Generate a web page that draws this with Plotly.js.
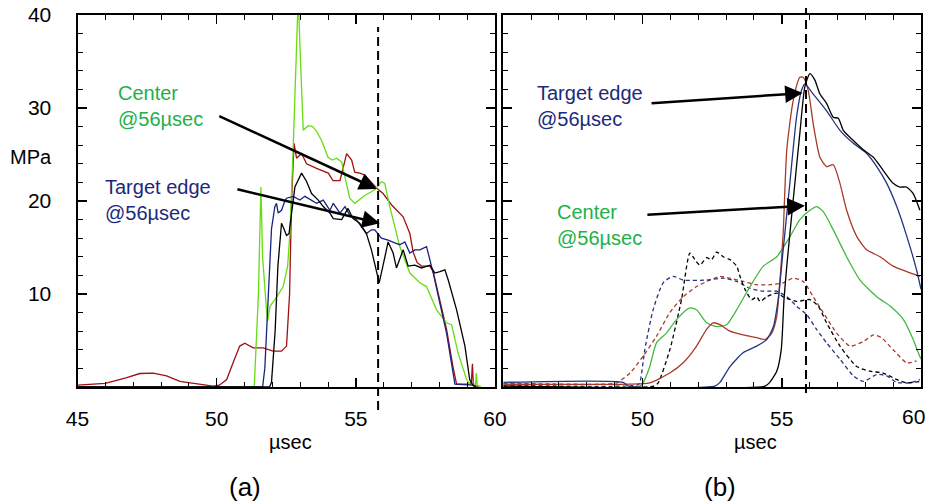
<!DOCTYPE html>
<html><head><meta charset="utf-8">
<script src="https://cdn.plot.ly/plotly-3.0.1.min.js"></script>
<style>html,body{margin:0;padding:0;background:#fff}#plot{width:926px;height:504px}</style>
</head><body><div id="plot"></div>
<script>
// ---- Panel (a) data: pressure (MPa) vs time (µsec)
const aGreenX = [45,51.35,51.5,51.59,51.65,51.72,51.79,51.83,51.92,52.09,52.25,52.39,52.55,52.63,52.75,52.85,52.93,53.0,53.11,53.29,53.45,53.59,53.77,54.0,54.15,54.31,54.49,54.78,54.96,55.32,55.68,55.92,56.04,56.22,56.58,56.94,57.3,57.54,57.9,58.26,58.44,58.67,58.98,59.1,59.3,59.33,59.36,59.5];
const aGreenY = [0,0,10,21.5,14,10.8,8.3,7.1,8.7,9.4,10.1,10.8,13,16.5,25.8,36,42,36,27.6,28.1,28,27.5,26.5,24.7,24.4,24.6,24.2,20.3,19.75,20.6,21.2,22.1,21.9,19.4,15.1,12.25,11.2,10.8,8.3,6.9,6.7,3.7,0.8,0.3,0.3,1.5,0.2,0];
const aRedX = [45,46,46.77,47.24,47.72,48.2,48.68,49.4,49.87,50.1,50.36,50.59,50.83,51.01,51.31,51.67,52.03,52.33,52.51,52.62,52.69,52.78,52.87,53.05,53.23,53.59,54.01,54.18,54.43,54.67,54.85,54.96,55.14,55.32,55.74,55.98,56.28,56.7,56.94,57.06,57.2,57.36,57.66,57.78,58.02,58.26,58.49,58.62,59.09,59.15,59.19,59.22,59.4];
const aRedY = [0.2,0.4,1.0,1.45,1.5,1.2,0.6,0.3,0.1,0.2,0.8,2.6,4.4,4.7,4.2,4.2,3.85,3.85,4.4,10,20,26.2,24.6,25.1,24.0,23.5,23,22.2,22.2,25.1,24.4,23.1,23,22.8,21.4,20.8,19.6,18.3,16.5,14.5,13.4,13,13,12.4,9.4,6.2,2.2,0.3,0.3,0.5,2.5,0.3,0];
const aBlueX = [45,51.65,51.73,51.85,51.97,52.09,52.15,52.21,52.33,52.45,52.51,52.75,52.99,53.17,53.41,53.59,53.83,54.07,54.19,54.43,54.61,54.78,55.02,55.2,55.38,55.56,55.68,55.92,56.16,56.4,56.58,56.76,56.94,57.12,57.3,57.54,57.66,57.78,58.02,58.26,58.56,59.2,59.3];
const aBlueY = [0,0,2,10,17,19.4,19.75,18.7,19.0,20.0,20.3,20.5,20.1,20.5,20.1,19.75,20.1,19.0,19.75,18.7,19.4,18.5,18,17.2,16.5,16.9,16.9,16.0,15.8,15.5,15.3,15.6,14.4,14.75,14.75,15.1,13.7,12.25,9.0,5.8,0.3,0.2,0];
const aBlackX = [45,51.9,51.97,52.1,52.2,52.33,52.42,52.51,52.6,52.7,52.81,53.05,53.23,53.41,53.65,53.83,54.07,54.19,54.49,54.72,54.9,55.14,55.38,55.56,55.7,55.84,55.98,56.16,56.34,56.46,56.7,56.88,57.12,57.36,57.66,57.84,58.02,58.2,58.32,58.62,58.92,59.09,59.2,59.3];
const aBlackY = [0,0,0.5,6,13,17.6,17,16.3,16.5,19,21.5,23,22.1,20.8,20.1,19.4,18.7,18.1,18,19.2,18.1,17.6,16.5,14.75,13,11.2,13.1,15.6,14.4,12.8,14.75,13,13.1,12.8,13.1,12.25,12.4,12.6,11.5,8.3,4.4,0.8,0.2,0];

// ---- Panel (b) data
const bBlackX = [45,54.4,54.57,54.82,54.98,55.08,55.18,55.41,55.65,55.83,56.01,56.19,56.37,56.61,56.85,57.03,57.21,57.57,57.93,58.29,58.64,59.0,59.24,59.48,59.72,59.96];
const bBlackY = [0.1,0.1,0.5,1.7,4,9.4,13,20.1,27.3,32.3,33.7,33,31.5,30.5,29.0,28.9,27.6,26.5,25.5,24.7,23.3,21.9,21.5,21.5,20.8,19.0];
const bBlueX = [45,49.3,49.5,52.6,52.78,53.14,53.62,54.1,54.46,54.7,54.87,55.05,55.17,55.29,55.53,55.71,55.83,56.13,56.61,57.09,57.57,58.05,58.41,58.77,59.13,59.49,59.84,60];
const bBlueY = [0.5,0.5,0.1,0.1,0.5,2.2,3.7,4.4,5.1,6.5,9.4,14.75,18.3,21.9,29,31.9,32.6,31.5,29.7,27.6,26.2,25.1,23.7,21.9,19.4,16.2,12.6,10.5];
const bRedX = [45,49.5,50.26,50.98,51.46,51.94,52.3,52.54,52.78,53.14,53.62,54.1,54.4,54.64,54.82,54.93,55.05,55.18,55.41,55.65,55.77,55.95,56.13,56.37,56.61,56.85,57.09,57.33,57.69,58.05,58.53,59.0,59.49,59.96];
const bRedY = [0.3,0.3,0.45,1.5,2.6,4.4,6.2,6.9,6.7,6.0,5.6,5.3,5.1,5.8,7.6,11.2,16.5,25.5,30.8,33.3,33.3,31.9,28.3,24.7,23.7,23.9,21.9,19.0,16.2,14.75,14.0,13.0,12.4,11.9];
const bGreenX = [45,49.9,50.02,50.26,50.5,50.86,51.22,51.7,51.94,52.3,52.66,53.02,53.38,53.86,54.34,54.82,55.3,55.65,56.01,56.25,56.49,56.85,57.33,57.81,58.41,58.89,59.37,59.72,59.9,60];
const bGreenY = [0.1,0.1,0.45,2.2,4.75,5.8,7.25,8.5,8.3,6.9,6.5,6.7,8.3,10.8,13,14.0,16.2,18.0,19.0,19.4,18.85,16.9,14.0,11.5,9.7,8.7,7.25,5.1,3.7,3];
const bBlackDashX = [45,50.4,50.56,50.98,51.4,51.7,51.88,52.06,52.3,52.48,52.66,52.9,53.14,53.38,53.5,53.68,53.92,54.1,54.22,54.46,54.82,55.05,55.53,56.01,56.31,56.61,57.09,57.69,58.17,58.64,59.13,59.49,59.96];
const bBlackDashY = [0.1,0.1,0.45,4.0,9.4,14.4,13.7,13.1,13.9,13.7,14.5,14.0,13.7,13.0,11.9,10.5,9.4,9.7,9.2,9.7,10.1,9.7,9.2,9.4,8.7,6.9,4.4,2.2,1.7,1.5,0.8,0.45,0.6];
const bBlueDashX = [45,49.8,49.9,50.08,50.38,50.74,51.1,51.46,52.3,52.9,53.38,53.86,54.34,54.82,55.18,55.53,55.89,56.25,56.61,57.09,57.57,57.93,58.41,58.77,59.13,59.6,59.96];
const bBlueDashY = [0.2,0.2,0.45,4.0,8.3,11.2,11.9,11.5,11.5,11.7,11.35,10.6,10.3,10.3,9.7,8.7,7.8,6.2,4.75,3.0,1.2,0.6,1.35,1.2,0.5,0.45,0.8];
const bRedDashX = [45,48.5,49.07,49.55,50.02,50.5,50.98,51.46,51.94,52.42,52.78,53.14,53.62,54.1,54.58,55.05,55.41,55.77,56.13,56.49,56.97,57.45,57.93,58.29,58.58,59.0,59.49,59.84];
const bRedDashY = [0.4,0.3,0.45,1.5,3.3,5.45,8.0,9.7,10.8,11.5,11.9,11.7,11.35,11.0,11.0,11.2,11.7,11.35,9.7,8.0,5.8,4.4,4.9,5.6,5.3,4.0,2.6,2.8];

// ---- ticks, labels
const xTicksA = [45,50,55,60];
const xTicksB = [50,55,60];
const xTickTextB = ['50','55',''];
const yTicks = [10,20,30,40];
const markTimeA = 55.8;
const markTimeB = 55.87;
const labelCenter = 'Center<br>@56µsec';
const labelEdge = 'Target edge<br>@56µsec';

const W = 926, H = 504;
const px = v => v / W, py = v => 1 - v / H;

function tr(x, y, color, xa, ya, dash, shape) {
  return {x, y, type: 'scatter', mode: 'lines', xaxis: xa, yaxis: ya,
    line: {color, width: 1.3, dash: dash || 'solid', shape: shape || 'linear', smoothing: 0.6},
    hoverinfo: 'skip', showlegend: false};
}

const data = [
  tr(aRedX, aRedY, '#a01010', 'x', 'y'),
  tr(aGreenX, aGreenY, '#66dd11', 'x', 'y'),
  tr(aBlueX, aBlueY, '#1a237e', 'x', 'y'),
  tr(aBlackX, aBlackY, '#000000', 'x', 'y'),
  tr(bRedDashX, bRedDashY, '#a83a2a', 'x2', 'y2', '4px,3px', 'spline'),
  tr(bBlueDashX, bBlueDashY, '#23357e', 'x2', 'y2', '4px,3px', 'spline'),
  tr(bBlackDashX, bBlackDashY, '#000000', 'x2', 'y2', '4px,3px', 'spline'),
  tr(bGreenX, bGreenY, '#44b840', 'x2', 'y2', 'solid', 'spline'),
  tr(bRedX, bRedY, '#a83a2a', 'x2', 'y2', 'solid', 'spline'),
  tr(bBlueX, bBlueY, '#23357e', 'x2', 'y2', 'solid', 'spline'),
  tr(bBlackX, bBlackY, '#000000', 'x2', 'y2', 'solid', 'spline')
];

const FAM = 'Liberation Sans, Arial, sans-serif';
const font = {family: FAM, size: 21, color: '#000'};
const minorTicks = d => ({dtick: d, ticks: 'inside', ticklen: 5, tickwidth: 1, tickcolor: '#000'});
const axBase = {
  showline: true, linecolor: '#000', linewidth: 2, mirror: 'allticks',
  ticks: 'inside', ticklen: 9, tickwidth: 1.5, tickcolor: '#000',
  showgrid: false, zeroline: false, fixedrange: true, automargin: false,
  tickfont: font
};
const yDom = [1 - 387 / H, 1 - 15 / H];

const layout = {
  width: W, height: H, margin: {l: 0, r: 0, t: 0, b: 0},
  paper_bgcolor: '#fff', plot_bgcolor: '#fff', font: font,
  xaxis: Object.assign({}, axBase, {domain: [px(77.5), px(495)], range: [45, 60], anchor: 'y',
    tickmode: 'array', tickvals: xTicksA, ticktext: xTicksA.map(String), ticklabelstandoff: 12,
    ticklabeloverflow: 'allow', minor: minorTicks(1)}),
  yaxis: Object.assign({}, axBase, {domain: yDom, range: [0, 40], anchor: 'x',
    tickmode: 'array', tickvals: yTicks, ticktext: yTicks.map(String), ticklabelstandoff: 20,
    ticklabeloverflow: 'allow', minor: minorTicks(2)}),
  xaxis2: Object.assign({}, axBase, {domain: [px(503.3), px(921)], range: [45, 60], anchor: 'y2',
    tickmode: 'array', tickvals: xTicksB, ticktext: xTickTextB, ticklabelstandoff: 12,
    minor: minorTicks(1)}),
  yaxis2: Object.assign({}, axBase, {domain: yDom, range: [0, 40], anchor: 'x2',
    tickmode: 'array', tickvals: yTicks, showticklabels: false, minor: minorTicks(2)}),
  shapes: [
    {type: 'line', xref: 'x', x0: markTimeA, x1: markTimeA, yref: 'paper', y0: py(410), y1: py(27),
      line: {color: '#000', width: 2, dash: '9px,5px'}},
    {type: 'line', xref: 'x2', x0: markTimeB, x1: markTimeB, yref: 'paper', y0: py(393), y1: py(8),
      line: {color: '#000', width: 2, dash: '9px,5px'}}
  ],
  annotations: [
    // arrows
    {xref: 'x', yref: 'y', axref: 'x', ayref: 'y', x: 55.75, y: 21.3, ax: 50.04, ay: 29.2,
      showarrow: true, arrowhead: 2, arrowsize: 1.4, arrowwidth: 2.5, arrowcolor: '#000', text: ''},
    {xref: 'x', yref: 'y', axref: 'x', ayref: 'y', x: 55.86, y: 17.6, ax: 50.69, ay: 21.3,
      showarrow: true, arrowhead: 2, arrowsize: 1.4, arrowwidth: 2.5, arrowcolor: '#000', text: ''},
    {xref: 'x2', yref: 'y2', axref: 'x2', ayref: 'y2', x: 55.75, y: 31.6, ax: 50.27, ay: 30.5,
      showarrow: true, arrowhead: 2, arrowsize: 1.4, arrowwidth: 2.5, arrowcolor: '#000', text: ''},
    {xref: 'x2', yref: 'y2', axref: 'x2', ayref: 'y2', x: 55.83, y: 19.5, ax: 50.12, ay: 18.5,
      showarrow: true, arrowhead: 2, arrowsize: 1.4, arrowwidth: 2.5, arrowcolor: '#000', text: ''},
    // labels
    {xref: 'paper', yref: 'paper', x: px(116), y: py(106), xanchor: 'left', yanchor: 'middle', align: 'left',
      showarrow: false, text: labelCenter, font: {family: FAM, size: 20, color: '#22b04a'}},
    {xref: 'paper', yref: 'paper', x: px(103), y: py(200), xanchor: 'left', yanchor: 'middle', align: 'left',
      showarrow: false, text: labelEdge, font: {family: FAM, size: 20, color: '#1b2a7a'}},
    {xref: 'paper', yref: 'paper', x: px(535), y: py(106), xanchor: 'left', yanchor: 'middle', align: 'left',
      showarrow: false, text: labelEdge, font: {family: FAM, size: 20, color: '#1b2a7a'}},
    {xref: 'paper', yref: 'paper', x: px(555), y: py(225), xanchor: 'left', yanchor: 'middle', align: 'left',
      showarrow: false, text: labelCenter, font: {family: FAM, size: 20, color: '#22b04a'}},
    {xref: 'paper', yref: 'paper', x: px(31), y: py(157), xanchor: 'center', yanchor: 'middle',
      showarrow: false, text: 'MPa', font: {family: FAM, size: 20, color: '#000'}},
    {xref: 'paper', yref: 'paper', x: px(913), y: py(416), xanchor: 'center', yanchor: 'middle',
      showarrow: false, text: '60', font: font},
    {xref: 'paper', yref: 'paper', x: px(290), y: py(442), xanchor: 'center', yanchor: 'middle',
      showarrow: false, text: 'µsec', font: {family: FAM, size: 20, color: '#000'}},
    {xref: 'paper', yref: 'paper', x: px(755), y: py(442), xanchor: 'center', yanchor: 'middle',
      showarrow: false, text: 'µsec', font: {family: FAM, size: 20, color: '#000'}},
    {xref: 'paper', yref: 'paper', x: px(245), y: py(487), xanchor: 'center', yanchor: 'middle',
      showarrow: false, text: '(a)', font: {family: FAM, size: 26, color: '#000'}},
    {xref: 'paper', yref: 'paper', x: px(720), y: py(487), xanchor: 'center', yanchor: 'middle',
      showarrow: false, text: '(b)', font: {family: FAM, size: 26, color: '#000'}}
  ]
};

Plotly.newPlot('plot', data, layout, {staticPlot: true, displayModeBar: false});
</script></body></html>
